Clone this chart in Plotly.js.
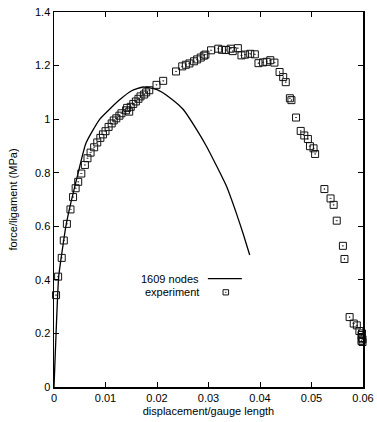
<!DOCTYPE html>
<html>
<head>
<meta charset="utf-8">
<script src="https://cdn.plot.ly/plotly-3.0.1.min.js"></script>
<style>html,body{margin:0;padding:0;background:#fff;}#chart{width:377px;height:422px;}</style>
</head>
<body>
<div id="chart"></div>
<script>
// 1609 nodes simulation curve
const simX = [0, 0.0004, 0.0009, 0.0016, 0.0023, 0.0033, 0.0047, 0.0062, 0.0089, 0.0128, 0.0150, 0.0173, 0.0200, 0.0225, 0.0251, 0.0277, 0.0296, 0.0316, 0.0335, 0.0354, 0.0367, 0.0380];
const simY = [0, 0.20, 0.41, 0.51, 0.60, 0.69, 0.80, 0.91, 1.00, 1.073, 1.105, 1.120, 1.110, 1.080, 1.036, 0.961, 0.899, 0.824, 0.749, 0.649, 0.574, 0.493];

// experiment points
const expX = [0.0004, 0.0008, 0.0015, 0.0019, 0.0025, 0.0032, 0.0037, 0.0042, 0.0047, 0.0053, 0.0060, 0.0065, 0.0071, 0.0078, 0.0084, 0.0090, 0.0095, 0.0100, 0.0106, 0.0112, 0.0116, 0.0121, 0.0127, 0.0131, 0.0140, 0.0146, 0.0142, 0.0149, 0.0154, 0.0159, 0.0164, 0.0168, 0.0175, 0.0179, 0.0185, 0.0199, 0.0212, 0.0237, 0.0249, 0.0256, 0.0263, 0.0272, 0.0278, 0.0285, 0.0291, 0.0294, 0.0305, 0.0319, 0.0326, 0.0334, 0.0343, 0.0347, 0.0357, 0.0364, 0.0371, 0.0381, 0.0390, 0.0397, 0.0406, 0.0413, 0.0420, 0.0428, 0.0438, 0.0445, 0.0450, 0.0458, 0.0461, 0.0470, 0.0479, 0.0486, 0.0493, 0.0497, 0.0504, 0.0507, 0.0525, 0.0537, 0.0543, 0.0549, 0.0561, 0.0564, 0.0574, 0.0582, 0.0588, 0.0593, 0.0597, 0.0598, 0.0597, 0.0599, 0.0598, 0.0599];
const expY = [0.343, 0.412, 0.482, 0.547, 0.609, 0.663, 0.709, 0.742, 0.766, 0.797, 0.829, 0.854, 0.875, 0.895, 0.913, 0.930, 0.943, 0.955, 0.971, 0.984, 0.995, 1.003, 1.013, 1.022, 1.033, 1.028, 1.042, 1.046, 1.057, 1.066, 1.076, 1.085, 1.092, 1.100, 1.108, 1.128, 1.143, 1.178, 1.197, 1.203, 1.208, 1.216, 1.223, 1.230, 1.237, 1.241, 1.257, 1.263, 1.259, 1.258, 1.263, 1.254, 1.265, 1.238, 1.241, 1.244, 1.242, 1.209, 1.212, 1.214, 1.220, 1.211, 1.176, 1.157, 1.138, 1.078, 1.071, 1.006, 0.956, 0.939, 0.926, 0.899, 0.891, 0.870, 0.739, 0.704, 0.680, 0.621, 0.527, 0.478, 0.261, 0.237, 0.230, 0.209, 0.194, 0.183, 0.172, 0.168, 0.200, 0.178];

const seriesNames = ['1609 nodes', 'experiment'];
const xTitle = 'displacement/gauge length';
const yTitle = 'force/ligament (MPa)';

const font = {family: 'Liberation Sans, Arial, sans-serif', size: 11, color: '#000'};

const traces = [
  {x: simX, y: simY, mode: 'lines', name: seriesNames[0], line: {color: '#000', width: 1.3, shape: 'spline', smoothing: 0.5}, showlegend: false},
  {x: expX, y: expY, mode: 'markers', name: seriesNames[1], cliponaxis: false,
   marker: {symbol: 'square-open-dot', size: 7, color: '#111', line: {width: 1, color: '#111'}}, showlegend: false}
];

const axisCommon = {
  showline: true, linecolor: '#000', linewidth: 1.5, mirror: 'allticks',
  ticks: 'inside', ticklen: 5, tickcolor: '#000', tickwidth: 1,
  showgrid: false, zeroline: false, tickfont: font
};

const layout = {
  width: 377, height: 422,
  margin: {l: 54, r: 14, t: 12, b: 35},
  paper_bgcolor: '#fff', plot_bgcolor: '#fff',
  font: font,
  showlegend: false,
  xaxis: Object.assign({}, axisCommon, {range: [0, 0.06], dtick: 0.01, tick0: 0,
    title: {text: xTitle, font: font, standoff: 4}}),
  yaxis: Object.assign({}, axisCommon, {range: [0, 1.4], dtick: 0.2, tick0: 0,
    title: {text: yTitle, font: font, standoff: 15}}),
  annotations: [
    {xref: 'paper', yref: 'paper', x: 0.476, y: 0.287, xanchor: 'right', yanchor: 'middle', text: seriesNames[0], showarrow: false, font: font},
    {xref: 'paper', yref: 'paper', x: 0.476, y: 0.253, xanchor: 'right', yanchor: 'middle', text: seriesNames[1], showarrow: false, font: font}
  ],
  shapes: [
    {type: 'line', xref: 'paper', yref: 'paper', x0: 0.498, x1: 0.608, y0: 0.289, y1: 0.289, line: {color: '#000', width: 1.3}},
    {type: 'rect', xref: 'paper', yref: 'paper', x0: 0.547, x1: 0.565, y0: 0.2455, y1: 0.2595, line: {color: '#111', width: 1}},
    {type: 'rect', xref: 'paper', yref: 'paper', x0: 0.5545, x1: 0.5575, y0: 0.2510, y1: 0.2540, fillcolor: '#111', line: {width: 0}}
  ]
};

Plotly.newPlot('chart', traces, layout, {displayModeBar: false, staticPlot: true});
</script>
</body>
</html>
